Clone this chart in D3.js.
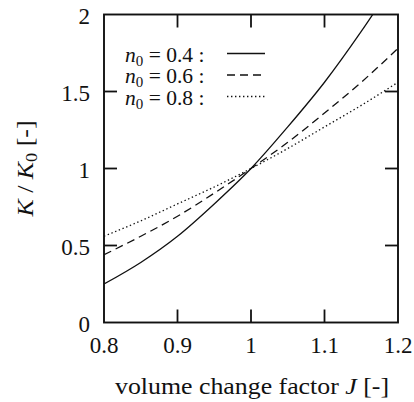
<!DOCTYPE html>
<html>
<head>
<meta charset="utf-8">
<script src="https://cdn.jsdelivr.net/npm/d3@7"></script>
<style>
  body { margin: 0; background: #fff; }
</style>
</head>
<body>
<svg></svg>
<script>
// values
const jValues = [0.80, 0.85, 0.90, 0.95, 1.00, 1.05, 1.10, 1.15, 1.20];
const kN04 = [0.25, 0.39, 0.56, 0.77, 1.00, 1.27, 1.56, 1.89, 2.25];
const kN06 = [0.44, 0.56, 0.69, 0.84, 1.00, 1.17, 1.36, 1.56, 1.78];
const kN08 = [0.56, 0.66, 0.77, 0.88, 1.00, 1.13, 1.27, 1.41, 1.56];
const n0Labels = ["0.4", "0.6", "0.8"];
const xTicks = [0.8, 0.9, 1, 1.1, 1.2];
const yTicks = [0, 0.5, 1, 1.5, 2];

const serif = "'Liberation Serif', monospace";
const ink = "#111";
const margin = {top: 14.5, right: 16, bottom: 79.5, left: 104};
const width = 414 - margin.left - margin.right;
const height = 402 - margin.top - margin.bottom;

const svg = d3.select("svg")
    .attr("width", 414)
    .attr("height", 402)
  .append("g")
    .attr("transform", "translate(" + margin.left + "," + margin.top + ")");

let xScale = d3.scaleLinear().domain([0.8, 1.2]).range([0, width]);
let yScale = d3.scaleLinear().domain([0, 2]).range([height, 0]);

svg.append("clipPath").attr("id", "clip")
  .append("rect").attr("width", width).attr("height", height);

const series = [
  {name: n0Labels[0], values: kN04, dash: null},
  {name: n0Labels[1], values: kN06, dash: "8,5"},
  {name: n0Labels[2], values: kN08, dash: "1.4,2.6"}
];

const line = d3.line()
  .x(d => xScale(d[0]))
  .y(d => yScale(d[1]))
  .curve(d3.curveMonotoneX);

svg.append("g").attr("clip-path", "url(#clip)")
  .selectAll("path")
  .data(series)
  .enter().append("path")
    .attr("d", s => line(jValues.map((j, i) => [j, s.values[i]])))
    .attr("fill", "none")
    .attr("stroke", ink)
    .attr("stroke-width", 1.3)
    .attr("stroke-dasharray", s => s.dash);

// frame with inward ticks on all four sides
const tickLen = 13;
svg.append("rect")
  .attr("width", width).attr("height", height)
  .attr("fill", "none").attr("stroke", ink).attr("stroke-width", 1.9);

const inner = yTicks.slice(1, -1);
const innerX = xTicks.slice(1, -1);
const ticks = svg.append("g").attr("stroke", ink).attr("stroke-width", 1.8);
innerX.forEach(t => {
  ticks.append("line").attr("x1", xScale(t)).attr("x2", xScale(t)).attr("y1", height).attr("y2", height - tickLen);
  ticks.append("line").attr("x1", xScale(t)).attr("x2", xScale(t)).attr("y1", 0).attr("y2", tickLen);
});
inner.forEach(t => {
  ticks.append("line").attr("y1", yScale(t)).attr("y2", yScale(t)).attr("x1", 0).attr("x2", tickLen);
  ticks.append("line").attr("y1", yScale(t)).attr("y2", yScale(t)).attr("x1", width).attr("x2", width - tickLen);
});

// tick labels
svg.append("g").selectAll("text")
  .data(xTicks)
  .enter().append("text")
    .attr("font-family", serif)
    .attr("fill", ink)
    .attr("x", d => xScale(d))
    .attr("y", height + 30)
    .attr("text-anchor", "middle")
    .attr("font-size", 23)
    .text(d => d3.format("")(d));

svg.append("g").selectAll("text")
  .data(yTicks)
  .enter().append("text")
    .attr("font-family", serif)
    .attr("fill", ink)
    .attr("x", -14)
    .attr("y", d => yScale(d))
    .attr("dy", "0.42em")
    .attr("text-anchor", "end")
    .attr("font-size", 23)
    .text(d => d3.format("")(d));

// axis titles
const xt = svg.append("text")
  .attr("font-family", serif)
  .attr("fill", ink)
  .attr("x", 11)
  .attr("y", height + 71)
  .attr("font-size", 23)
  .attr("textLength", 274)
  .attr("lengthAdjust", "spacingAndGlyphs");
xt.append("tspan").text("volume change factor ");
xt.append("tspan").attr("font-style", "italic").text("J");
xt.append("tspan").text(" [-]");

const yt = svg.append("text")
  .attr("font-family", serif)
  .attr("fill", ink)
  .attr("transform", "translate(-71," + (height / 2 + 48) + ") rotate(-90)")
  .attr("font-size", 24)
  .attr("textLength", 96)
  .attr("lengthAdjust", "spacingAndGlyphs");
yt.append("tspan").attr("font-style", "italic").text("K");
yt.append("tspan").text(" / ");
yt.append("tspan").attr("font-style", "italic").text("K");
yt.append("tspan").attr("font-size", 17).attr("dy", 4).text("0");
yt.append("tspan").attr("dy", -4).text(" [-]");

// legend
const legend = svg.append("g").attr("transform", "translate(21,47)");
series.forEach((s, i) => {
  const row = legend.append("g").attr("transform", "translate(0," + i * 21.5 + ")");
  const t = row.append("text")
    .attr("font-family", serif)
    .attr("fill", ink)
    .attr("font-size", 21.5);
  t.append("tspan").attr("font-style", "italic").text("n");
  t.append("tspan").attr("font-size", 15).attr("dy", 4).text("0");
  t.append("tspan").attr("dy", -4).text(" = " + s.name + " :");
  row.append("line")
    .attr("x1", 102).attr("x2", 140)
    .attr("y1", -8).attr("y2", -8)
    .attr("stroke", ink)
    .attr("stroke-width", 1.3)
    .attr("stroke-dasharray", s.dash);
});
</script>
</body>
</html>
